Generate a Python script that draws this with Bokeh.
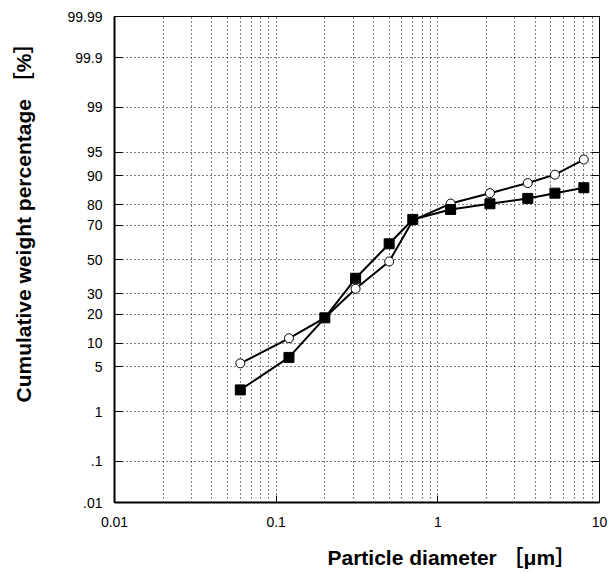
import math
from statistics import NormalDist
from bokeh.plotting import figure
from bokeh.models import FixedTicker, LinearAxis, Title, Range1d
from bokeh.embed import file_html
from bokeh.resources import INLINE

# ---- data ----
diameter_um = [0.06, 0.12, 0.2, 0.31, 0.5, 0.7, 1.2, 2.1, 3.6, 5.3, 8.0]
pct_filled = [2.3, 6.7, 18.6, 38.7, 59.5, 73.0, 77.8, 80.3, 82.5, 84.5, 86.4]
pct_open = [5.6, 11.4, 18.6, 32.7, 48.8, 72.5, 80.4, 84.5, 87.9, 90.3, 93.7]

y_tick_pct = [99.99, 99.9, 99, 95, 90, 80, 70, 50, 30, 20, 10, 5, 1, 0.1, 0.01]
y_tick_labels = ["99.99", "99.9", "99", "95", "90", "80", "70", "50", "30",
                 "20", "10", "5", "1", ".1", ".01"]
x_ticks = [0.01, 0.1, 1, 10]
x_tick_labels = ["0.01", "0.1", "1", "10"]
x_minor = [m * d for d in [0.01, 0.1, 1] for m in range(2, 10)]

x_title = "Particle diameter ［μm］"
y_title = "Cumulative weight percentage ［%］"

# ---- probability (normal) scale ----
nd = NormalDist()


def probit(p):
    return nd.inv_cdf(p / 100.0)


y_ticks = [probit(v) for v in y_tick_pct]

FONT = "'Liberation Sans', 'Noto Sans CJK JP', sans-serif"
W, H = 608, 573
LEFT, RIGHT, TOP, BOTTOM = 114, 599, 16, 502   # frame edges in page pixels

p = figure(width=W, height=H, x_axis_type="log",
           x_range=Range1d(0.01, 10), y_range=Range1d(probit(0.01), probit(99.99)),
           output_backend="svg", toolbar_location=None,
           min_border_left=LEFT, min_border_right=W - RIGHT, min_border_top=TOP,
           min_border_bottom=H - BOTTOM)
p.background_fill_color = "white"
p.border_fill_color = "white"
p.outline_line_color = "black"
p.outline_line_width = 1

# grids
xt = FixedTicker(ticks=x_ticks, minor_ticks=x_minor)
yt = FixedTicker(ticks=y_ticks, minor_ticks=[])
p.xgrid.ticker = xt
p.ygrid.ticker = yt
for g in (p.xgrid[0], p.ygrid[0]):
    g.grid_line_color = "black"
    g.grid_line_alpha = 1.0
    g.grid_line_dash = "1 3"
    g.grid_line_width = 1
p.xgrid.minor_grid_line_color = "black"
p.xgrid.minor_grid_line_alpha = 1.0
p.xgrid.minor_grid_line_dash = "1 3"

# x axis
xa = p.xaxis[0]
xa.ticker = xt
xa.major_label_overrides = {v: lab for v, lab in zip(x_ticks, x_tick_labels)}
xa.major_tick_in = 7
xa.major_tick_out = 0
xa.minor_tick_in = 0
xa.minor_tick_out = 0
xa.axis_line_width = 2
xa.major_label_standoff = 14
xa.major_label_text_font = FONT
xa.major_label_text_font_size = "14px"
xa.major_label_text_color = "black"

# y axis
ya = p.yaxis[0]
ya.ticker = yt
ya.major_label_overrides = {v: lab for v, lab in zip(y_ticks, y_tick_labels)}
ya.major_tick_in = 8
ya.major_tick_out = 0
ya.minor_tick_in = 0
ya.minor_tick_out = 0
ya.axis_line_width = 2
ya.major_label_standoff = 12
ya.major_label_text_font = FONT
ya.major_label_text_font_size = "14px"
ya.major_label_text_color = "black"

# right axis: ticks only
ra = LinearAxis(ticker=yt, major_label_overrides={v: "" for v in y_ticks},
                major_tick_in=8, major_tick_out=0, minor_tick_in=0, minor_tick_out=0,
                major_label_standoff=0, axis_line_width=1)
p.add_layout(ra, "right")

# series
p.line(diameter_um, [probit(v) for v in pct_open], line_color="black", line_width=2)
p.line(diameter_um, [probit(v) for v in pct_filled], line_color="black", line_width=2)
p.scatter(diameter_um, [probit(v) for v in pct_open], marker="circle", size=9,
          fill_color="white", line_color="black", line_width=1)
p.scatter(diameter_um, [probit(v) for v in pct_filled], marker="square", size=10,
          fill_color="black", line_color="black")

# axis titles as border titles (offset shifts along the frame edge)
has_pad = "padding" in Title.properties()
tx = Title(text=x_title, align="left", offset=213,
           text_font=FONT, text_font_size="21px", text_font_style="bold", text_color="black")
ty = Title(text=y_title, align="left", offset=100,
           text_font=FONT, text_font_size="21px", text_font_style="bold", text_color="black")
if has_pad:
    tx.vertical_align = "top"
    tx.standoff = 0
    tx.padding = dict(left=0, right=0, top=16, bottom=0)
    ty.standoff = 10
    ty.padding = dict(left=0, right=0, top=0, bottom=25)
else:
    tx.standoff = 19
    ty.standoff = 36
p.add_layout(tx, "below")
p.add_layout(ty, "left")

open("out.html", "w").write(file_html(p, INLINE))
